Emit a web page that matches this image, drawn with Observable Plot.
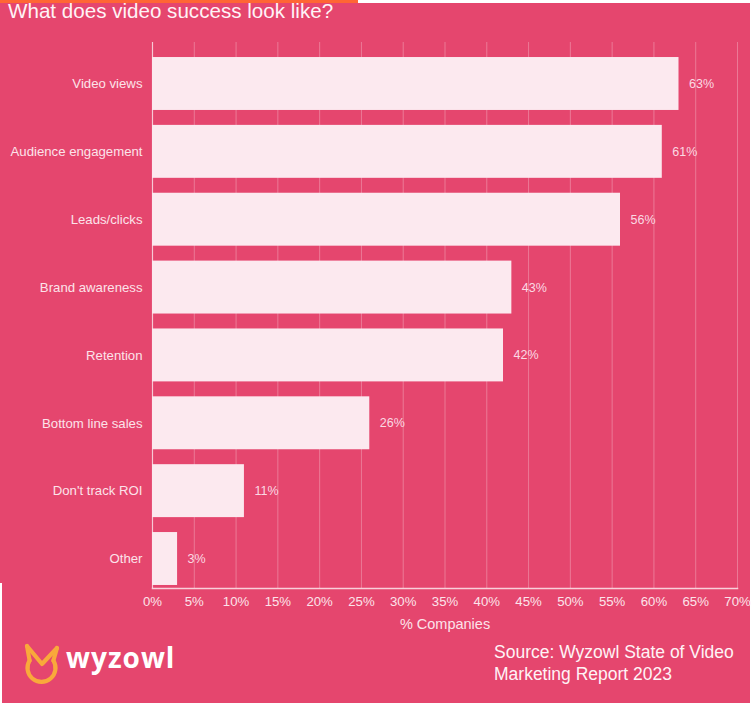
<!DOCTYPE html>
<html>
<head>
<meta charset="utf-8">
<script src="https://cdn.jsdelivr.net/npm/d3@7"></script>
<script src="https://cdn.jsdelivr.net/npm/@observablehq/plot@0.6"></script>
<style>
  html, body { margin: 0; padding: 0; background: #ffffff; }
  body { width: 756px; height: 708px; position: relative; overflow: hidden; font-family: "Liberation Sans", Arial, sans-serif; }
  #bg { position: absolute; left: 2px; top: 3px; width: 748px; height: 700px; background: #E5466E; }
  #bgleft { position: absolute; left: 0; top: 3px; width: 4px; height: 580px; background: #E5466E; }
  #topbar { position: absolute; left: 0; top: 0; width: 358px; height: 3px; background: #FF6634; }
  #title { position: absolute; left: 8px; top: 1px; font-size: 20.6px; line-height: 20.5px; color: #FFF3F6; white-space: nowrap; }
  #chart { position: absolute; left: 0; top: 0; }
  #source { position: absolute; left: 494px; top: 641px; font-size: 17.5px; line-height: 22px; color: #FFF3F6; }
  #logo { position: absolute; left: 22px; top: 642px; }
  #logotext { position: absolute; left: 66px; top: 639px; font-family: "Open Sans", sans-serif; font-weight: 700; font-size: 28px; line-height: 36px; letter-spacing: 1px; color: #ffffff; }
  #chart g[aria-label="x-axis label"] text { font-size: 14.5px; }
</style>
</head>
<body>
<div id="bg"></div>
<div id="bgleft"></div>
<div id="topbar"></div>
<div id="chart"></div>
<div id="title">What does video success look like?</div>
<svg id="logo" width="44" height="46" viewBox="0 0 44 46">
  <path d="M 7.6 18.5 A 14 14 0 1 0 31.4 18.5" fill="none" stroke="#F9A93B" stroke-width="4.2" stroke-linecap="round"/>
  <polyline points="5,4 20,22 35,6" fill="none" stroke="#F9A93B" stroke-width="4.2" stroke-linejoin="round" stroke-linecap="round"/>
  <line x1="5" y1="4" x2="7.6" y2="18.5" stroke="#F9A93B" stroke-width="4.2" stroke-linecap="round"/>
  <line x1="35" y1="6" x2="31.4" y2="18.5" stroke="#F9A93B" stroke-width="4.2" stroke-linecap="round"/>
</svg>
<div id="logotext">wyzowl</div>
<div id="source">Source: Wyzowl State of Video<br>Marketing Report 2023</div>
<script>
const categories = ["Video views", "Audience engagement", "Leads/clicks", "Brand awareness", "Retention", "Bottom line sales", "Don't track ROI", "Other"];
const values = [63, 61, 56, 43, 42, 26, 11, 3];
const xTicks = [0, 5, 10, 15, 20, 25, 30, 35, 40, 45, 50, 55, 60, 65, 70];

const data = categories.map((c, i) => ({category: c, value: values[i]}));

const chart = Plot.plot({
  width: 756,
  height: 640,
  marginTop: 42,
  marginBottom: 52,
  marginLeft: 152,
  marginRight: 19,
  style: {
    background: "transparent",
    color: "#FCE3EA",
    fontFamily: "'Liberation Sans', Arial, sans-serif",
    fontSize: "13.2px"
  },
  x: {
    domain: [0, 70],
    ticks: xTicks,
    tickFormat: d => d + "%",
    tickSize: 0,
    tickPadding: 8,
    label: "% Companies",
    labelAnchor: "center",
    labelArrow: "none",
    labelOffset: 40
  },
  y: {
    domain: categories,
    range: [48, 594],
    round: false,
    paddingInner: 0.22,
    paddingOuter: 0.133,
    tickSize: 0,
    tickPadding: 10,
    label: null
  },
  marks: [
    Plot.ruleX(xTicks, {stroke: "#FFFFFF", strokeOpacity: 0.28, strokeWidth: 1}),
    Plot.ruleX([0], {stroke: "#FFFFFF", strokeOpacity: 0.6, strokeWidth: 1.2}),
    Plot.frame({anchor: "bottom", stroke: "#FFFFFF", strokeOpacity: 0.75, strokeWidth: 1.5}),
    Plot.barX(data, {x: "value", y: "category", fill: "#FCE9EF"}),
    Plot.text(data, {x: "value", y: "category", text: d => d.value + "%", dx: 10, textAnchor: "start", fill: "#FBD9E3", fontSize: 12.5})
  ]
});
document.getElementById("chart").appendChild(chart);
</script>
</body>
</html>
